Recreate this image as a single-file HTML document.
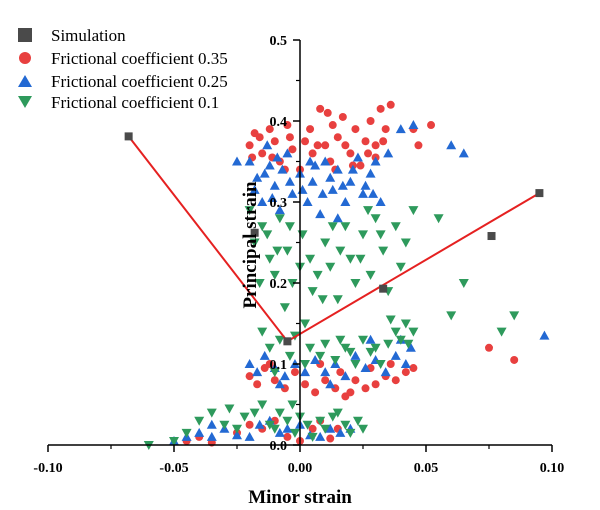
<!DOCTYPE html>
<html><head><meta charset="utf-8"><style>
body{margin:0;background:#fff}
svg{display:block;font-family:"Liberation Serif",serif}
</style></head><body>
<svg id="c" width="600" height="510" xmlns="http://www.w3.org/2000/svg">
<g id="marks"></g>
<g id="axes"></g>
<g font-size="17">
 <g><rect x="18" y="28" width="14" height="14" fill="#4a4a4a"/><text x="51" y="41">Simulation</text></g>
 <g><circle cx="25" cy="58" r="6" fill="#e8403f"/><text x="51" y="64">Frictional coefficient 0.35</text></g>
 <g><polygon points="25,75 32,87 18,87" fill="#2369d3"/><text x="51" y="87">Frictional coefficient 0.25</text></g>
 <g><polygon points="18,96 32,96 25,108" fill="#2e9a5c"/><text x="51" y="108">Frictional coefficient 0.1</text></g>
</g>
<text x="300" y="503" text-anchor="middle" font-weight="bold" font-size="19">Minor strain</text>
<text transform="translate(256,245) rotate(-90)" text-anchor="middle" font-weight="bold" font-size="19">Principal strain</text>
</svg>
<script>
const xTicks=[-0.10,-0.05,0.00,0.05,0.10];
const xTickLabels=["-0.10","-0.05","0.00","0.05","0.10"];
const yTicks=[0,0.1,0.2,0.3,0.4,0.5];
const yTickLabels=["0.0","0.1","0.2","0.3","0.4","0.5"];
const simX=[-0.068,-0.018,-0.005,0.033,0.076,0.095];
const simY=[0.381,0.262,0.128,0.193,0.258,0.311];
const lineX=[-0.068,-0.005,0.095];
const lineY=[0.381,0.128,0.311];
const red=[[-0.02,0.37],[-0.018,0.385],[-0.015,0.36],[-0.012,0.39],[-0.01,0.375],[-0.008,0.35],[-0.005,0.395],[-0.003,0.365],[0,0.34],[0.002,0.375],[0.005,0.36],[0.008,0.415],[0.01,0.37],[0.012,0.35],[0.015,0.38],[0.017,0.405],[0.02,0.36],[0.022,0.39],[0.024,0.345],[0.026,0.375],[0.028,0.4],[0.03,0.37],[0.032,0.415],[0.034,0.39],[0.036,0.42],[0.03,0.355],[0.014,0.34],[-0.006,0.34],[-0.016,0.38],[-0.011,0.355],[-0.004,0.38],[0.004,0.39],[0.007,0.37],[0.013,0.395],[0.018,0.37],[0.021,0.345],[0.027,0.36],[0.033,0.375],[0.011,0.41],[-0.019,0.355],[0.045,0.39],[0.052,0.395],[0.047,0.37],[0.075,0.12],[0.085,0.105],
[-0.02,0.085],[-0.017,0.075],[-0.014,0.095],[-0.01,0.08],[-0.006,0.07],[-0.002,0.09],[0.002,0.075],[0.006,0.065],[0.01,0.08],[0.014,0.07],[0.018,0.06],[0.022,0.08],[0.026,0.07],[0.03,0.075],[0.034,0.085],[0.038,0.08],[0.042,0.09],[0.045,0.095],[0.036,0.1],[0.028,0.095],[0.016,0.09],[0.008,0.1],[-0.012,0.1],[0.02,0.065],
[-0.045,0.005],[-0.04,0.01],[-0.035,0.003],[-0.025,0.015],[-0.015,0.02],[-0.005,0.01],[0.005,0.02],[0.012,0.008],[-0.01,0.03],[-0.02,0.025],[0,0.005],[0.008,0.03],[0.015,0.02]];
const blue=[[-0.02,0.35],[-0.017,0.33],[-0.015,0.3],[-0.012,0.345],[-0.01,0.32],[-0.008,0.29],[-0.005,0.36],[-0.003,0.31],[0,0.335],[0.003,0.3],[0.005,0.325],[0.008,0.285],[0.01,0.35],[0.013,0.315],[0.015,0.34],[0.018,0.3],[0.02,0.325],[0.023,0.355],[0.025,0.31],[0.028,0.335],[0.03,0.35],[0.032,0.3],[-0.013,0.37],[-0.025,0.35],[0.015,0.28],[-0.018,0.315],[-0.014,0.335],[-0.011,0.305],[-0.007,0.34],[-0.004,0.325],[0.001,0.315],[0.006,0.345],[0.009,0.31],[0.012,0.33],[0.017,0.32],[0.021,0.34],[0.026,0.32],[0.029,0.31],[-0.009,0.355],[0.004,0.35],[0.04,0.39],[0.045,0.395],[0.06,0.37],[0.065,0.36],[0.097,0.135],[0.035,0.36],
[-0.02,0.1],[-0.017,0.09],[-0.014,0.11],[-0.01,0.095],[-0.006,0.085],[-0.002,0.1],[0.002,0.09],[0.006,0.105],[0.01,0.09],[0.014,0.1],[0.018,0.085],[0.022,0.11],[0.026,0.095],[0.03,0.105],[0.034,0.09],[0.038,0.11],[0.042,0.1],[0.044,0.12],[0.028,0.13],[0.04,0.13],[0.012,0.075],[-0.008,0.075],
[-0.05,0.005],[-0.045,0.01],[-0.04,0.015],[-0.035,0.01],[-0.03,0.02],[-0.025,0.012],[-0.02,0.01],[-0.016,0.025],[-0.012,0.03],[-0.008,0.015],[-0.005,0.02],[0,0.025],[0.004,0.012],[0.008,0.01],[0.012,0.02],[0.016,0.015],[0.02,0.02],[-0.035,0.025]];
const green=[[-0.02,0.29],[-0.018,0.25],[-0.015,0.27],[-0.012,0.23],[-0.01,0.21],[-0.008,0.28],[-0.005,0.24],[-0.003,0.2],[0,0.22],[-0.006,0.17],[0.002,0.15],[0.005,0.19],[0.01,0.25],[0.012,0.22],[0.015,0.18],[0.018,0.27],[0.02,0.23],[0.022,0.2],[0.025,0.26],[0.028,0.21],[0.03,0.28],[0.033,0.24],[0.035,0.19],[0.038,0.27],[0.04,0.22],[0.045,0.29],[-0.016,0.2],[-0.013,0.26],[-0.009,0.24],[-0.004,0.27],[0.001,0.26],[0.004,0.23],[0.007,0.21],[0.013,0.27],[0.016,0.24],[0.024,0.23],[0.027,0.29],[0.032,0.26],[0.042,0.25],[0.009,0.18],[0.055,0.28],[0.065,0.2],[0.06,0.16],[0.085,0.16],[0.08,0.14],
[-0.015,0.14],[-0.012,0.12],[-0.008,0.13],[-0.004,0.11],[-0.002,0.135],[0.002,0.1],[0.004,0.12],[0.008,0.11],[0.01,0.125],[0.014,0.105],[0.016,0.13],[0.02,0.115],[0.022,0.1],[0.025,0.13],[0.028,0.115],[0.03,0.12],[0.032,0.1],[0.035,0.125],[0.038,0.14],[0.04,0.13],[0.042,0.15],[0.045,0.14],[0.036,0.155],[0.043,0.125],[0.018,0.12],[-0.01,0.09],
[-0.06,0.0],[-0.05,0.005],[-0.045,0.015],[-0.04,0.03],[-0.035,0.04],[-0.03,0.025],[-0.028,0.045],[-0.025,0.02],[-0.022,0.035],[-0.018,0.04],[-0.015,0.05],[-0.012,0.025],[-0.01,0.02],[-0.008,0.04],[-0.005,0.03],[-0.002,0.015],[0,0.035],[0.003,0.025],[0.005,0.01],[0.008,0.03],[0.01,0.02],[0.013,0.035],[0.015,0.04],[0.018,0.025],[0.02,0.015],[0.023,0.03],[0.025,0.02],[-0.003,0.05]];
const NS="http://www.w3.org/2000/svg";
const X=v=>300+v*2520, Y=v=>445-v*810;
function mk(t,a,p){const e=document.createElementNS(NS,t);for(const k in a)e.setAttribute(k,a[k]);(p||document.getElementById('marks')).appendChild(e);return e;}
const axes=document.getElementById('axes');
red.forEach(d=>{const e=mk('circle',{cx:X(d[0]),cy:Y(d[1]),r:4,fill:'#e8403f'});

});
blue.forEach(d=>{const x=X(d[0]),y=Y(d[1]);const e=mk('polygon',{points:`${x},${y-5} ${x+5},${y+4} ${x-5},${y+4}`,fill:'#2369d3'});

});
green.forEach(d=>{const x=X(d[0]),y=Y(d[1]);const e=mk('polygon',{points:`${x-5},${y-4} ${x+5},${y-4} ${x},${y+5}`,fill:'#2e9a5c'});

});
const ln=mk('polyline',{points:lineX.map((v,i)=>X(v)+','+Y(lineY[i])).join(' '),fill:'none',stroke:'#e52121','stroke-width':2});


simX.forEach((v,i)=>{const e=mk('rect',{x:X(v)-4,y:Y(simY[i])-4,width:8,height:8,fill:'#4a4a4a'});

});
const xa=mk('line',{x1:X(-0.1),x2:X(0.1),y1:445,y2:445,stroke:'#000','stroke-width':1.5},axes);


const ya=mk('line',{x1:300,x2:300,y1:Y(0.5),y2:445,stroke:'#000','stroke-width':1.5},axes);


xTicks.forEach((v,i)=>{mk('line',{x1:X(v),x2:X(v),y1:445,y2:452,stroke:'#000','stroke-width':1.5},axes);
if(i<xTicks.length-1)mk('line',{x1:X(v+0.025),x2:X(v+0.025),y1:445,y2:449,stroke:'#000','stroke-width':1.2},axes);
const t=mk('text',{x:X(v),y:472,'text-anchor':'middle','font-size':14,'font-weight':'bold'},axes);t.textContent=xTickLabels[i];

});
yTicks.forEach((v,i)=>{mk('line',{x1:293,x2:300,y1:Y(v),y2:Y(v),stroke:'#000','stroke-width':1.5},axes);
if(i<yTicks.length-1)mk('line',{x1:296,x2:300,y1:Y(v+0.05),y2:Y(v+0.05),stroke:'#000','stroke-width':1.2},axes);
const t=mk('text',{x:287,y:Y(v)+5,'text-anchor':'end','font-size':14,'font-weight':'bold'},axes);t.textContent=yTickLabels[i];

});
</script>
</body></html>
